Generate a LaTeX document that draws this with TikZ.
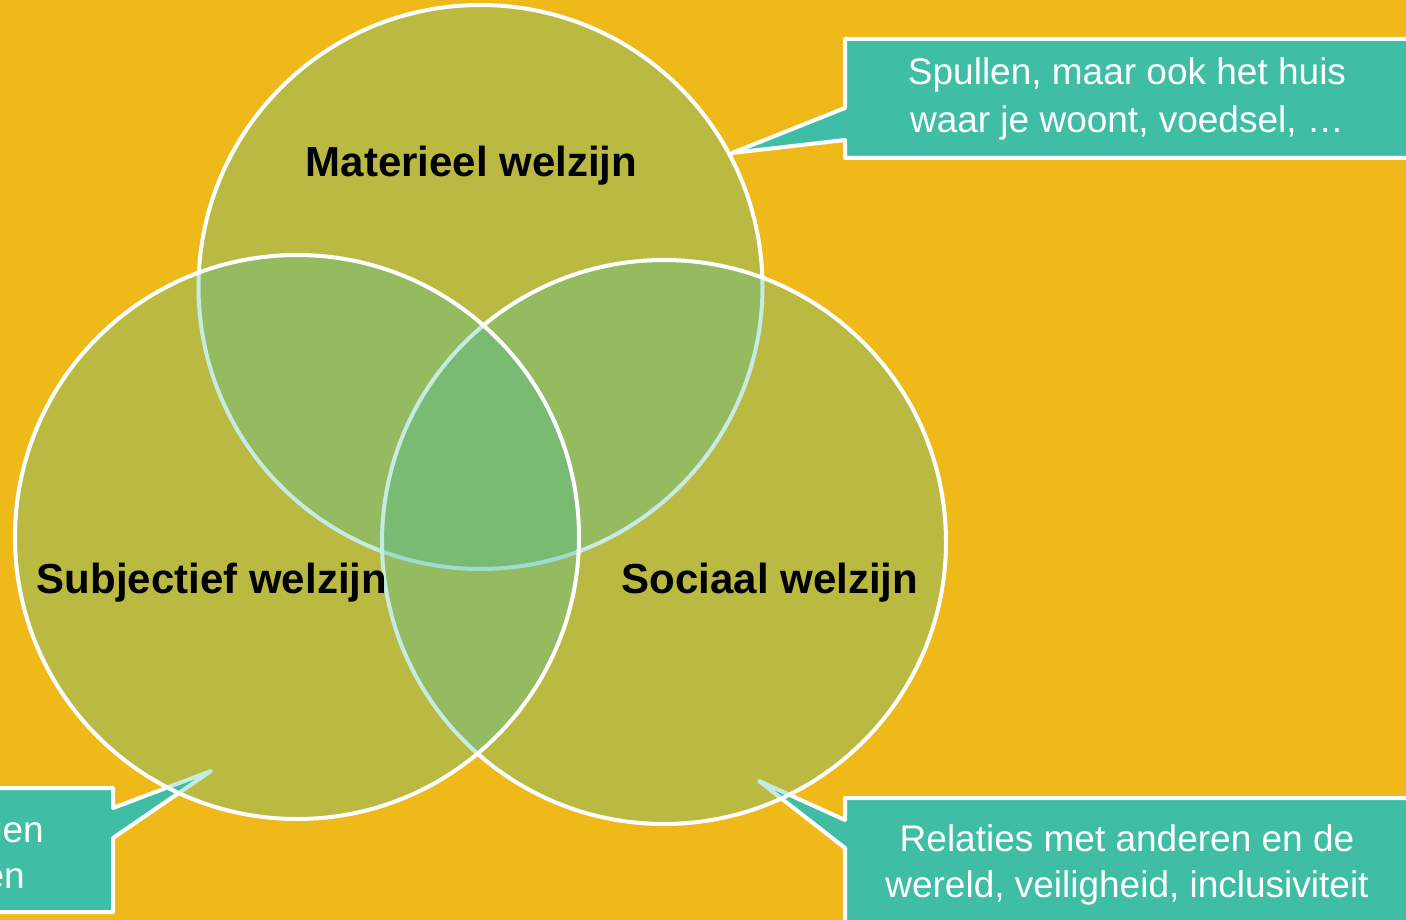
\documentclass[tikz,border=0pt]{standalone}
\usepackage{fontspec}
\setmainfont{Liberation Sans}
\definecolor{bgorange}{RGB}{240,185,26}
\definecolor{callteal}{RGB}{63,190,165}
\tikzset{
  venn/.style={draw=white, line width=4pt, fill=callteal, fill opacity=0.3},
  callout/.style={draw=white, line width=4pt, fill=callteal, line join=round},
  bigl/.style={font=\fontsize{42}{50}\selectfont\bfseries, text=black, inner sep=0pt, anchor=base},
  calltxt/.style={font=\fontsize{37}{45}\selectfont, text=white, inner sep=0pt, anchor=base},
}
\begin{document}
\begin{tikzpicture}[x=1pt,y=-1pt]
\useasboundingbox (0,0) rectangle (1406,920);
\fill[bgorange] (0,0) rectangle (1406,920);
% callouts
\path[callout] (845,39) -- (1420,39) -- (1420,158) -- (845,158) -- (845,140) -- (732,153) -- (845,108) -- cycle;
\path[callout] (845,798) -- (1420,798) -- (1420,935) -- (845,935) -- (845,848) -- (759,781) -- (845,820) -- cycle;
\path[callout] (113,788) -- (113,808) -- (211,771) -- (113,838) -- (113,912) -- (-20,912) -- (-20,788) -- cycle;
% circles
\path[venn] (480.5,287) circle[radius=282pt];
\path[venn] (664,542) circle[radius=282pt];
\path[venn] (297,537) circle[radius=282pt];
% labels
\node[bigl] (mat) at (471.5,177) {Materieel welzijn};
\node[bigl] (sub) at (212,593) {Subjectief welzijn};
\node[bigl] (soc) at (770,593) {Sociaal welzijn};
% callout texts
\node[calltxt] (t1a) at (1127,85) {Spullen, maar ook het huis};
\node[calltxt] (t1b) at (1127,133) {waar je woont, voedsel, …};
\node[calltxt] (t2a) at (1127,851) {Relaties met anderen en de};
\node[calltxt] (t2b) at (1127,897) {wereld, veiligheid, inclusiviteit};
\node[calltxt, anchor=base east] (t3a) at (44,842) {gen};
\node[calltxt, anchor=base east] (t3b) at (25,888) {en};
\end{tikzpicture}
\end{document}
